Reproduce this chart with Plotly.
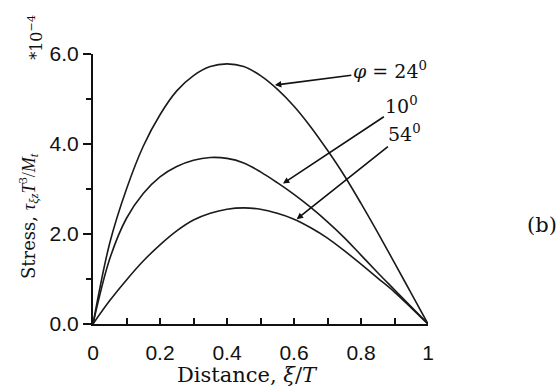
import plotly.graph_objects as go

x_vals = [0, 0.05, 0.1, 0.15, 0.2, 0.25, 0.3, 0.35, 0.4, 0.45, 0.5,
          0.55, 0.6, 0.65, 0.7, 0.75, 0.8, 0.85, 0.9, 0.95, 1.0]
phi24 = [0, 1.8, 3.0, 3.95, 4.65, 5.18, 5.52, 5.72, 5.78, 5.72, 5.52,
         5.22, 4.84, 4.38, 3.86, 3.3, 2.68, 2.03, 1.36, 0.68, 0]
phi10 = [0, 1.45, 2.35, 2.9, 3.27, 3.5, 3.64, 3.7, 3.68, 3.58, 3.38,
         3.14, 2.88, 2.59, 2.27, 1.92, 1.53, 1.14, 0.76, 0.38, 0]
phi54 = [0, 0.52, 0.98, 1.4, 1.76, 2.07, 2.31, 2.46, 2.55, 2.58, 2.55,
         2.46, 2.33, 2.14, 1.91, 1.63, 1.33, 1.02, 0.71, 0.36, 0]

x_tickvals = [0, 0.2, 0.4, 0.6, 0.8, 1.0]
x_ticktext = ["0", "0.2", "0.4", "0.6", "0.8", "1"]
y_tickvals = [0, 2, 4, 6]
y_ticktext = ["0.0", "2.0", "4.0", "6.0"]

labels = ["<i>φ</i> = 24<sup>0</sup>", "10<sup>0</sup>", "54<sup>0</sup>"]
label_tips = [(0.543, 5.31), (0.567, 3.12), (0.608, 2.33)]
label_pos = [(0.886, 5.64), (0.922, 4.87), (0.931, 4.24)]

fig = go.Figure()
for ys in (phi24, phi10, phi54):
    fig.add_trace(go.Scatter(x=x_vals, y=ys, mode="lines",
                             line=dict(color="#1a1a1a", width=1.6, shape="spline", smoothing=1.0),
                             showlegend=False, hoverinfo="skip"))

serif = "DejaVu Serif"
for txt, (tx, ty), (px, py) in zip(labels, label_tips, label_pos):
    fig.add_annotation(x=tx, y=ty, ax=px, ay=py, xref="x", yref="y", axref="x", ayref="y",
                       text=txt, showarrow=True, arrowhead=2, arrowsize=0.8, arrowwidth=1.6,
                       arrowcolor="#111", font=dict(family=serif, size=19, color="#111"))

fig.add_annotation(xref="paper", yref="paper", x=-0.194, y=0.40, textangle=-90,
                   xanchor="center", yanchor="middle",
                   text=("Stress, <span style=\"font-family:'Liberation Serif'\">"
                         "<i>τ</i><sub><i>ξz</i></sub><i>T</i><sup>3</sup>/<i>M</i><sub><i>t</i></sub></span>"),
                   showarrow=False, font=dict(family=serif, size=18, color="#111"))
fig.add_annotation(xref="paper", yref="paper", x=-0.17, y=1.06, textangle=-90,
                   xanchor="center", yanchor="middle",
                   text="*10<sup>−4</sup>", showarrow=False,
                   font=dict(family=serif, size=16, color="#111"))
fig.add_annotation(xref="paper", yref="paper", x=1.39, y=0.367, xanchor="right",
                   text="(b)", showarrow=False, font=dict(family=serif, size=21, color="#111"))
fig.add_annotation(xref="paper", yref="paper", x=0.46, y=-0.19, yanchor="middle",
                   xanchor="center",
                   text="Distance, <i>ξ</i>/<i>T</i>", showarrow=False,
                   font=dict(family=serif, size=21, color="#111"))

fig.update_xaxes(range=[0, 1.0], tickvals=x_tickvals, ticktext=x_ticktext,
                 ticks="inside", ticklen=6, tickwidth=1.5, tickcolor="#111",
                 ticklabelstandoff=9,
                 minor=dict(dtick=0.1, ticks="inside", ticklen=6, tickwidth=1.5, tickcolor="#111"),
                 showline=True, linecolor="#111", linewidth=2, showgrid=False, zeroline=False,
                 tickfont=dict(family="Liberation Sans", size=21, color="#111"))
fig.update_yaxes(range=[0, 6.0], tickvals=y_tickvals, ticktext=y_ticktext,
                 ticks="outside", ticklen=8, tickwidth=1.5, tickcolor="#111",
                 minor=dict(dtick=1, ticks="outside", ticklen=5, tickwidth=1.5, tickcolor="#111"),
                 showline=True, linecolor="#111", linewidth=2, showgrid=False, zeroline=False,
                 tickfont=dict(family="Liberation Sans", size=21, color="#111"))

fig.update_layout(width=560, height=392, margin=dict(l=93, r=132, t=54, b=68),
                  plot_bgcolor="white", paper_bgcolor="white")
fig.write_html("out.html")
